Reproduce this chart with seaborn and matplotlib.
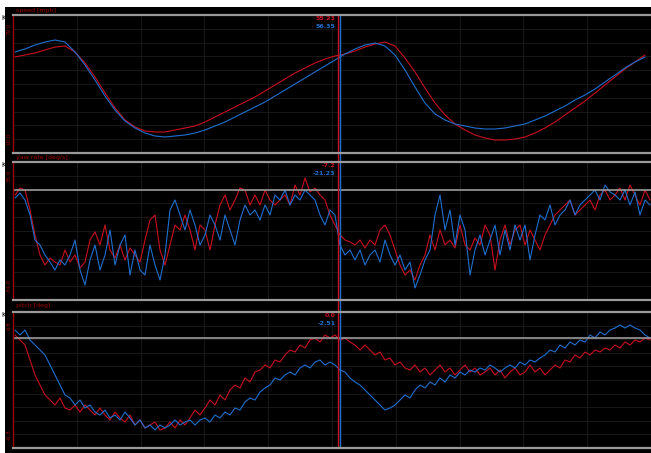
import numpy as np
import matplotlib
matplotlib.use('Agg')
import matplotlib.pyplot as plt
import seaborn as sns
from matplotlib.patches import Rectangle

# sample positions (every 5 m), speed logged at half rate
dist = np.arange(128) * 5
dist_speed = dist[::2]

speed_red = [58, 59, 60, 61.5, 63, 63.5, 60.5, 55, 48, 40,
             32.5, 26.5, 23, 21, 20.5, 20.5, 21.5, 22.5, 23.5, 25.5,
             28, 30.5, 33, 35.5, 38, 41, 44, 47, 50, 52.5,
             55, 57, 58.5, 59.5, 61, 63, 64.5, 65.5, 63.5, 57.5,
             50.5, 42.5, 35, 29, 24.5, 21.5, 19, 17.5, 16.5, 16.5,
             17, 18, 20, 22.5, 25.5, 29, 32.5, 36, 40, 44,
             48, 52, 55.5, 59]
speed_blue = [60.5, 62, 64, 65.5, 66.5, 65.5, 60.5, 54, 46.5, 38.5,
              31.5, 26, 22.5, 20, 18.5, 18, 18.5, 19, 20, 21.5,
              23.5, 25.5, 28, 30.5, 33, 35.5, 38.5, 41.5, 44.5, 47.5,
              50.5, 53.5, 56.5, 59.5, 62, 64, 65, 63.5, 59, 51.5,
              43, 35, 29.5, 26.5, 24.5, 23.5, 22.5, 22, 22, 22.5,
              23.5, 24.5, 26.5, 28.5, 31, 33.5, 36.5, 39, 42, 45.5,
              49, 52.5, 55.5, 58]

yaw_red = [18.5, 22, 21, 11, -1.5, -11.5, -16.5, -13, -15, -16.5,
           -9, -15, -11.5, -18, -15, -4, 0, -6.5, 3.5, -9,
           -13, -6.5, -14, -8, -11.5, -15, -4, 6, 8.5, -9,
           -16.5, -6.5, 3.5, 1, 8.5, 1, -9, 3.5, 1, -9,
           3.5, 13.5, 18.5, 11, 16, 22, 21, 13.5, 18.5, 13.5,
           21, 16, 13.5, 16, 18.5, 13.5, 23.5, 18.5, 27, 20,
           22, 18.5, 16, 8.5, 3.5, -1.5, -4, -5, -6.5, -4,
           -8, -4, -6.5, 1, 3.5, -1.5, -9, -16.5, -21.5, -19,
           -24, -16.5, -11.5, -1.5, -9, 1, -6.5, -4, -8, 3.5,
           -6.5, -9, -3, -6.5, 3.5, -1.5, -19, -4, 3.5, -6.5,
           1, 3.5, -6.5, 1, -4, -9, -1.5, 3.5, 8.5, 11,
           13.5, 16, 8.5, 11, 13.5, 16, 11, 18.5, 21, 16,
           18.5, 22, 16, 23.5, 18.5, 13.5, 21, 16]
yaw_blue = [17, 19.5, 16, 8.5, -4, -6.5, -11.5, -15, -19, -14,
            -16.5, -11.5, -4, -19, -26.5, -14, -6.5, -19, -11.5, 1,
            -16.5, -6.5, -1.5, -21.5, -9, -19, -21.5, -6.5, -16.5, -24,
            -11.5, 11, 16, 8.5, 1, 11, 3.5, -6.5, -1.5, 8.5,
            3.5, -4, 8.5, 1, -6.5, 6, 13.5, 8.5, 11, 6,
            13.5, 8.5, 18.5, 16, 21, 13.5, 18.5, 16, 21, 18.5,
            16, 8.5, 3.5, 11, 8.5, -6.5, -11.5, -9, -14, -9,
            -16.5, -11.5, -9, -15, -4, -11.5, -16.5, -11.5, -19, -15,
            -28, -21.5, -14, -9, 8.5, 18.5, 1, 11, -6.5, 8.5,
            1, -21.5, -9, -1.5, -11.5, -4, 3.5, -11.5, 1, -9,
            3.5, -4, 3.5, -14, -1.5, 8.5, 6, 13.5, 3.5, 8.5,
            11, 16, 8.5, 13.5, 16, 18.5, 21, 16, 23.5, 20,
            18.5, 16, 21, 13.5, 20, 8.5, 16, 13.5]

pitch_red = [4.5, 4.0, 3.5, 2.0, 0.5, -0.5, -1.5, -2.0, -2.5, -1.8,
             -2.8, -3.0, -2.5, -3.2, -2.5, -3.0, -3.5, -2.8, -3.5, -4.0,
             -3.2, -3.8, -4.2, -3.5, -4.5, -4.0, -4.8, -4.5, -4.2, -5.0,
             -4.8, -4.2, -4.8, -4.0, -4.5, -3.8, -3.0, -3.5, -2.8, -2.0,
             -2.5, -1.5, -2.0, -1.0, -0.5, -0.8, 0.2, -0.2, 0.8, 1.0,
             1.5, 1.2, 2.0, 1.8, 2.5, 3.0, 2.8, 3.5, 3.2, 4.0,
             4.2, 3.8, 4.5, 4.2, 4.5, 4.0, 4.2, 3.8, 3.5, 3.0,
             3.5, 3.0, 2.5, 2.8, 2.0, 2.2, 1.5, 1.8, 1.2, 1.0,
             1.5, 0.8, 1.2, 0.5, 1.0, 1.5, 0.8, 1.2, 0.5, 1.0,
             1.5, 0.8, 1.2, 0.5, 0.8, 1.2, 0.5, 1.0, 0.2, 0.8,
             1.2, 0.5, 0.8, 1.5, 0.8, 1.2, 0.5, 1.0, 1.5, 1.2,
             2.0, 1.8, 2.5, 2.2, 2.8, 2.5, 3.0, 2.8, 3.2, 3.0,
             3.5, 3.2, 3.8, 3.5, 4.0, 3.8, 4.2, 4.0]
pitch_blue = [5.0, 4.5, 5.0, 4.0, 3.5, 3.0, 2.5, 1.5, 0.5, -0.5,
              -1.5, -1.8, -2.5, -2.0, -2.8, -2.5, -3.2, -3.5, -3.0, -3.8,
              -3.5, -4.0, -3.2, -3.8, -4.5, -4.0, -4.8, -4.5, -5.0, -4.5,
              -4.8, -4.5, -4.0, -4.5, -4.2, -4.0, -4.5, -4.0, -3.8, -4.2,
              -3.5, -3.8, -3.2, -3.5, -2.8, -3.0, -2.2, -1.8, -2.0, -1.2,
              -0.8, -0.5, 0.2, 0.0, 0.5, 0.8, 0.5, 1.2, 1.5, 1.2,
              1.8, 2.0, 1.5, 1.8, 1.5, 1.0, 0.8, 0.2, -0.2, -0.5,
              -1.0, -1.5, -2.0, -2.5, -3.0, -2.8, -2.5, -2.0, -1.5, -1.8,
              -1.0, -0.5, -0.8, -0.2, -0.5, 0.2, -0.2, 0.5, 0.2, 0.8,
              0.5, 1.0, 0.8, 1.2, 1.0, 1.5, 1.2, 0.8, 1.2, 1.5,
              1.2, 1.8, 1.5, 2.0, 1.8, 2.2, 2.5, 3.0, 2.8, 3.5,
              3.2, 3.8, 3.5, 4.0, 3.8, 4.5, 4.2, 4.8, 4.5, 5.0,
              5.2, 5.5, 5.2, 5.5, 5.2, 5.0, 4.5, 4.2]

titles = ['speed [mph]', 'yaw rate [deg/s]', 'pitch [deg]']
ylims = [(10, 79), (-34, 35), (-6.8, 6.8)]
ref_lines = [None, 21, 4.2]
cursor_red_txt = ['55.23', '-7.2', '0.0']
cursor_blue_txt = ['56.35', '-21.23', '-2.51']
cursor_red, cursor_blue = 322.5, 325

RED = '#c8101e'
BLUE = '#1f6fcf'
DKRED = '#a00000'
GRAY = '#9a9a9a'

sns.set_theme(style='dark')
plt.rcParams['font.family'] = ['DejaVu Sans']

W, H = 651, 453
fig = plt.figure(figsize=(W / 100, H / 100), dpi=100)
fig.patch.set_facecolor('white')
fig.patches.append(Rectangle((5 / W, 0), 1 - 5 / W, 1 - 7 / H, transform=fig.transFigure,
                             facecolor='black', edgecolor='none', zorder=-10))

# panel extents in pixels (top, bottom)
panels = [(15, 153), (162, 300), (312, 448)]
series = [(dist_speed, speed_red, speed_blue),
          (dist, yaw_red, yaw_blue),
          (dist, pitch_red, pitch_blue)]

for i, ((top, bot), (xs, red, blue)) in enumerate(zip(panels, series)):
    ax = fig.add_axes([13 / W, 1 - bot / H, 1 - 13 / W, (bot - top) / H])
    ax.set_facecolor('black')
    sns.lineplot(x=xs, y=red, ax=ax, color=RED, linewidth=0.8)
    sns.lineplot(x=xs, y=blue, ax=ax, color=BLUE, linewidth=0.8)
    ax.set_xlim(-2, 636)
    y0, y1 = ylims[i]
    ax.set_ylim(y0, y1)

    ax.set_xticks(np.linspace(-2, 636, 11))
    ax.set_xticklabels([])
    yt = np.linspace(y0, y1, 11)
    ax.set_yticks(yt)
    ax.set_yticklabels([f'{y1:.1f}' if k == 9 else (f'{y0:.1f}' if k == 1 else '')
                        for k in range(11)])
    ax.tick_params(axis='both', length=0)
    ax.tick_params(axis='y', labelsize=4, labelcolor=DKRED, pad=1)
    for lab in ax.get_yticklabels():
        lab.set_rotation(90)
        lab.set_va('center')
    ax.grid(True, color='#1c1c1c', linewidth=0.6)
    ax.set_xlabel('')
    ax.set_ylabel('')

    for side in ['top', 'bottom']:
        ax.spines[side].set_color(GRAY)
        ax.spines[side].set_linewidth(1.6)
        ax.spines[side].set_visible(True)
    ax.spines['left'].set_color(DKRED)
    ax.spines['left'].set_linewidth(1.0)
    ax.spines['left'].set_visible(True)
    ax.spines['right'].set_visible(False)

    if ref_lines[i] is not None:
        ax.axhline(ref_lines[i], color=GRAY, linewidth=1.2)

    ext = 0 if i == 2 else -0.09
    ax.axvline(cursor_red, ymin=ext, ymax=1, color=RED, linewidth=1.0, clip_on=False)
    ax.axvline(cursor_blue, ymin=ext, ymax=1, color=BLUE, linewidth=1.0, clip_on=False)

    tr = ax.get_xaxis_transform()
    ax.text(cursor_red - 2, 0.975, cursor_red_txt[i], transform=tr, ha='right', va='center',
            fontsize=4.5, color=RED, fontweight='bold')
    ax.text(cursor_red - 2, 0.915, cursor_blue_txt[i], transform=tr, ha='right', va='center',
            fontsize=4.5, color=BLUE, fontweight='bold')

    ax.text(0.005, 1 + (7 if i == 2 else 4.5) / (bot - top), titles[i], transform=ax.transAxes,
            ha='left', va='center', fontsize=4.5, color=DKRED)
    # little marker in the white strip
    fig.text(1.5 / W, 1 - (top + 3) / H, 'K', fontsize=5, color='black', ha='left', va='center')

fig.savefig('out.png', dpi=100, facecolor=fig.get_facecolor())
